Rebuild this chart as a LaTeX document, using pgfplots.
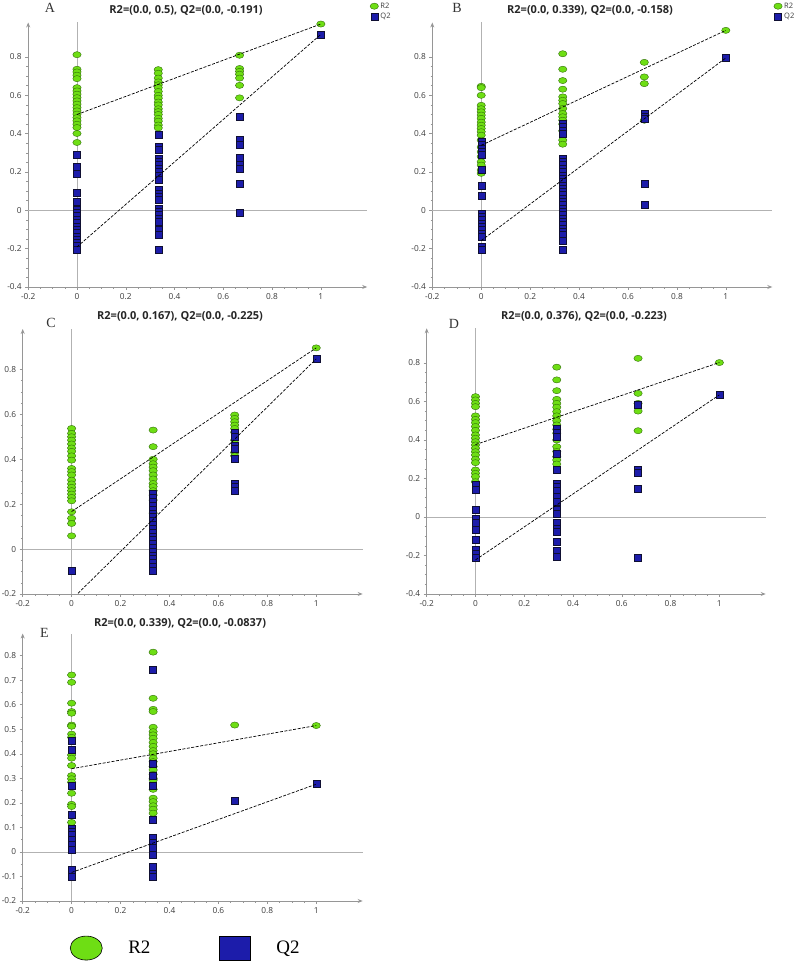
\documentclass[border=0pt]{standalone}
\usepackage{pgfplots}
\pgfplotsset{compat=1.18}
\usepackage{fontspec}
\setmainfont{Liberation Serif}
\newfontfamily\osans{Open Sans}
\usetikzlibrary{arrows.meta}
\definecolor{rgreen}{RGB}{110,222,20}
\definecolor{rgreenedge}{RGB}{50,110,10}
\definecolor{qblue}{RGB}{28,28,170}
\definecolor{qblueedge}{RGB}{15,15,50}
\definecolor{axgray}{RGB}{150,150,150}
\definecolor{zgray}{RGB}{178,178,178}
\definecolor{tickcol}{RGB}{60,60,60}
\pgfplotsset{
 perm/.style={
   scale only axis,
   axis lines=left,
   axis line style={axgray, line width=0.8pt, -{Stealth[length=5pt,width=4pt]}},
   tick align=outside,
   major tick length=3pt, minor tick length=1.8pt,
   tick style={axgray, line width=0.5pt},
   xmin=-0.2, xmax=1.19,
   xtick={-0.2,0,0.2,0.4,0.6,0.8,1},
   minor x tick num=3,
   minor y tick num=3,
   tick label style={font=\osans\fontsize{8.3}{9}\selectfont, text=tickcol},
   /pgf/number format/assume math mode=true,
   clip mode=individual,
 },
 r2/.style={only marks, mark=*, mark size=3.1pt, mark options={xscale=1.35, fill=rgreen, draw=rgreenedge, line width=0.4pt}},
 q2/.style={only marks, mark=square*, mark size=3.5pt, mark options={fill=qblue, draw=qblueedge, line width=0.4pt}},
 reg/.style={black, line width=0.7pt, dash pattern=on 3pt off 1.5pt, no marks, forget plot},
 smalllegend/.style={legend style={draw=none, fill=none, font=\osans\fontsize{7.5}{8}\selectfont, text=tickcol, row sep=-0.5pt, inner sep=0pt, legend cell align=left, anchor=north west}},
}
\begin{document}
\begin{tikzpicture}
\useasboundingbox (0pt,0pt) rectangle (802pt,962pt);
% ---------------- A ----------------
\begin{axis}[perm, at={(28.2pt,675pt)}, anchor=south west, width=339pt, height=264.5pt,
  ymin=-0.4, ymax=0.98, ytick={-0.4,-0.2,0,0.2,0.4,0.6,0.8},
  smalllegend, legend style={at={(1.008,1.083)}}]
\draw[zgray, line width=0.6pt] (axis cs:0,-0.4) -- (axis cs:0,0.98);
\draw[zgray, line width=0.6pt] (axis cs:-0.2,0) -- (axis cs:1.19,0);
\addplot[r2] coordinates {
(0,0.812)(0,0.736)(0,0.722)(0,0.705)(0,0.687)(0,0.640)(0,0.623)(0,0.606)(0,0.588)(0,0.571)(0,0.554)(0,0.536)(0,0.519)(0,0.502)(0,0.484)(0,0.467)(0,0.449)(0,0.432)(0,0.401)(0,0.354)
(0.3333,0.734)(0.3333,0.715)(0.3333,0.69)(0.3333,0.67)(0.3333,0.655)(0.3333,0.64)(0.3333,0.62)(0.3333,0.60)(0.3333,0.585)(0.3333,0.565)(0.3333,0.55)(0.3333,0.53)(0.3333,0.515)(0.3333,0.50)(0.3333,0.48)(0.3333,0.465)(0.3333,0.445)(0.3333,0.43)
(0.6667,0.809)(0.6667,0.74)(0.6667,0.725)(0.6667,0.71)(0.6667,0.69)(0.6667,0.652)(0.6667,0.587)
(1,0.972)};
\addlegendentry{R2}
\addplot[q2] coordinates {
(0,0.29)(0,0.227)(0,0.189)(0,0.094)(0,0.047)(0,0.005)(0,-0.012)(0,-0.03)(0,-0.047)(0,-0.065)(0,-0.083)(0,-0.10)(0,-0.118)(0,-0.135)(0,-0.153)(0,-0.17)(0,-0.187)(0,-0.205)
(0.3333,0.392)(0.3333,0.331)(0.3333,0.318)(0.3333,0.271)(0.3333,0.254)(0.3333,0.236)(0.3333,0.219)(0.3333,0.201)(0.3333,0.18)(0.3333,0.158)(0.3333,0.106)(0.3333,0.089)(0.3333,0.071)(0.3333,0.054)(0.3333,0.01)(0.3333,-0.007)(0.3333,-0.024)(0.3333,-0.042)(0.3333,-0.059)(0.3333,-0.102)(0.3333,-0.128)(0.3333,-0.203)
(0.6667,0.486)(0.6667,0.371)(0.6667,0.345)(0.6667,0.272)(0.6667,0.236)(0.6667,0.219)(0.6667,0.137)(0.6667,-0.012)
(1,0.918)};
\addlegendentry{Q2}
\addplot[reg] coordinates {(0,0.5) (1,0.972)};
\addplot[reg] coordinates {(0,-0.191) (1,0.918)};
\end{axis}
% ---------------- B ----------------
\begin{axis}[perm, at={(432.3pt,675pt)}, anchor=south west, width=340pt, height=264.5pt,
  ymin=-0.4, ymax=0.98, ytick={-0.4,-0.2,0,0.2,0.4,0.6,0.8},
  smalllegend, legend style={at={(1.004,1.083)}}]
\draw[zgray, line width=0.6pt] (axis cs:0,-0.4) -- (axis cs:0,0.98);
\draw[zgray, line width=0.6pt] (axis cs:-0.2,0) -- (axis cs:1.19,0);
\addplot[r2] coordinates {
(0,0.647)(0,0.64)(0,0.60)(0,0.548)(0,0.53)(0,0.514)(0,0.497)(0,0.48)(0,0.46)(0,0.444)(0,0.427)(0,0.41)(0,0.392)(0,0.366)(0,0.33)(0,0.305)(0,0.28)(0,0.253)(0,0.236)(0,0.21)(0,0.193)
(0.3333,0.817)(0.3333,0.736)(0.3333,0.677)(0.3333,0.632)(0.3333,0.592)(0.3333,0.574)(0.3333,0.557)(0.3333,0.531)(0.3333,0.505)(0.3333,0.488)(0.3333,0.47)(0.3333,0.45)(0.3333,0.415)(0.3333,0.366)(0.3333,0.345)
(0.6667,0.772)(0.6667,0.696)(0.6667,0.661)(0.6667,0.47)
(1,0.939)};
\addlegendentry{R2}
\addplot[q2] coordinates {
(0,0.357)(0,0.34)(0,0.323)(0,0.305)(0,0.288)(0,0.21)(0,0.13)(0,0.076)(0,-0.016)(0,-0.033)(0,-0.05)(0,-0.068)(0,-0.085)(0,-0.102)(0,-0.12)(0,-0.14)(0,-0.19)(0,-0.207)
(0.3333,0.453)(0.3333,0.436)(0.3333,0.418)(0.3333,0.40)(0.3333,0.27)(0.3333,0.253)(0.3333,0.236)(0.3333,0.218)(0.3333,0.2)(0.3333,0.183)(0.3333,0.166)(0.3333,0.148)(0.3333,0.131)(0.3333,0.114)(0.3333,0.096)(0.3333,0.079)(0.3333,0.062)(0.3333,0.044)(0.3333,0.027)(0.3333,0.01)(0.3333,-0.008)(0.3333,-0.025)(0.3333,-0.042)(0.3333,-0.06)(0.3333,-0.077)(0.3333,-0.094)(0.3333,-0.11)(0.3333,-0.125)(0.3333,-0.16)(0.3333,-0.205)
(0.6667,0.505)(0.6667,0.49)(0.6667,0.48)(0.6667,0.14)(0.6667,0.028)
(1,0.795)};
\addlegendentry{Q2}
\addplot[reg] coordinates {(0,0.339) (1,0.939)};
\addplot[reg] coordinates {(0,-0.158) (1,0.795)};
\end{axis}
% ---------------- C ----------------
\begin{axis}[perm, at={(22.7pt,368pt)}, anchor=south west, width=340pt, height=265pt,
  ymin=-0.2, ymax=0.98, ytick={-0.2,0,0.2,0.4,0.6,0.8}]
\draw[zgray, line width=0.6pt] (axis cs:0,-0.2) -- (axis cs:0,0.98);
\draw[zgray, line width=0.6pt] (axis cs:-0.2,0) -- (axis cs:1.19,0);
\addplot[r2] coordinates {
(0,0.537)(0,0.515)(0,0.5)(0,0.485)(0,0.468)(0,0.45)(0,0.435)(0,0.415)(0,0.396)(0,0.359)(0,0.345)(0,0.33)(0,0.307)(0,0.29)(0,0.275)(0,0.26)(0,0.245)(0,0.23)(0,0.215)(0,0.166)(0,0.137)(0,0.114)(0,0.059)
(0.3333,0.53)(0.3333,0.456)(0.3333,0.40)(0.3333,0.38)(0.3333,0.365)(0.3333,0.349)(0.3333,0.33)(0.3333,0.312)(0.3333,0.292)(0.3333,0.278)(0.3333,0.26)(0.3333,0.24)(0.3333,0.218)(0.3333,0.16)
(0.6667,0.597)(0.6667,0.582)(0.6667,0.567)(0.6667,0.552)(0.6667,0.537)(0.6667,0.52)(0.6667,0.485)(0.6667,0.43)(0.6667,0.415)
(1,0.896)};
\addplot[q2] coordinates {
(0,-0.096)
(0.3333,0.245)(0.3333,0.228)(0.3333,0.21)(0.3333,0.193)(0.3333,0.176)(0.3333,0.159)(0.3333,0.142)(0.3333,0.125)(0.3333,0.108)(0.3333,0.091)(0.3333,0.074)(0.3333,0.057)(0.3333,0.04)(0.3333,0.023)(0.3333,0.006)(0.3333,-0.011)(0.3333,-0.028)(0.3333,-0.045)(0.3333,-0.062)(0.3333,-0.079)(0.3333,-0.096)
(0.6667,0.518)(0.6667,0.5)(0.6667,0.46)(0.6667,0.448)(0.6667,0.404)(0.6667,0.292)(0.6667,0.277)(0.6667,0.262)
(1,0.847)};
\addplot[reg] coordinates {(0,0.167) (1,0.896)};
\addplot[reg] coordinates {(0,-0.225) (1,0.847)};
\end{axis}
% ---------------- D ----------------
\begin{axis}[perm, at={(426.7pt,368pt)}, anchor=south west, width=339pt, height=265.7pt,
  ymin=-0.4, ymax=0.98, ytick={-0.4,-0.2,0,0.2,0.4,0.6,0.8}]
\draw[zgray, line width=0.6pt] (axis cs:0,-0.4) -- (axis cs:0,0.98);
\draw[zgray, line width=0.6pt] (axis cs:-0.2,0) -- (axis cs:1.19,0);
\addplot[r2] coordinates {
(0,0.625)(0,0.608)(0,0.59)(0,0.573)(0,0.525)(0,0.507)(0,0.49)(0,0.47)(0,0.45)(0,0.426)(0,0.409)(0,0.391)(0,0.374)(0,0.357)(0,0.339)(0,0.322)(0,0.3)(0,0.282)(0,0.244)(0,0.227)(0,0.21)(0,0.183)
(0.3333,0.778)(0.3333,0.712)(0.3333,0.656)(0.3333,0.611)(0.3333,0.59)(0.3333,0.57)(0.3333,0.547)(0.3333,0.525)(0.3333,0.5)(0.3333,0.478)(0.3333,0.455)(0.3333,0.435)(0.3333,0.4)(0.3333,0.365)(0.3333,0.34)(0.3333,0.313)(0.3333,0.296)(0.3333,0.275)
(0.6667,0.824)(0.6667,0.642)(0.6667,0.59)(0.6667,0.55)(0.6667,0.448)
(1,0.802)};
\addplot[q2] coordinates {
(0,0.166)(0,0.144)(0,0.04)(0,-0.007)(0,-0.03)(0,-0.064)(0,-0.116)(0,-0.171)(0,-0.19)(0,-0.21)
(0.3333,0.46)(0.3333,0.438)(0.3333,0.417)(0.3333,0.331)(0.3333,0.244)(0.3333,0.175)(0.3333,0.158)(0.3333,0.135)(0.3333,0.106)(0.3333,0.08)(0.3333,0.036)(0.3333,0.019)(0.3333,-0.03)(0.3333,-0.059)(0.3333,-0.076)(0.3333,-0.128)(0.3333,-0.175)(0.3333,-0.206)
(0.6667,0.582)(0.6667,0.248)(0.6667,0.23)(0.6667,0.145)(0.6667,-0.21)
(1,0.634)};
\addplot[reg] coordinates {(0,0.376) (1,0.802)};
\addplot[reg] coordinates {(0,-0.223) (1,0.634)};
\end{axis}
% ---------------- E ----------------
\begin{axis}[perm, at={(22.7pt,61pt)}, anchor=south west, width=340pt, height=267.5pt,
  ymin=-0.2, ymax=0.89, ytick={-0.2,-0.1,0,0.1,0.2,0.3,0.4,0.5,0.6,0.7,0.8}, minor y tick num=1,
  legend columns=2,
  legend style={at={(0.139,-0.176)}, anchor=west, draw=none, fill=none, inner sep=0pt, outer sep=0pt,
     font=\fontsize{19}{20}\selectfont, nodes={inner sep=0pt}}]
\addlegendimage{legend image code/.code={\draw[fill=rgreen, draw=black, line width=0.6pt, solid] (16pt,0pt) ellipse (16pt and 12pt); \path[draw=none] (0pt,0pt) -- (58pt,0pt);}}
\addlegendentry{R2}
\addlegendimage{legend image code/.code={\path[draw=none] (-69pt,0pt) -- (0pt,0pt); \draw[fill=qblue, draw=black, line width=0.6pt, solid] (0pt,-12pt) rectangle (31pt,12pt); \path[draw=none] (31pt,0pt) -- (57pt,0pt);}}
\addlegendentry{Q2}
\draw[zgray, line width=0.6pt] (axis cs:0,-0.2) -- (axis cs:0,0.89);
\draw[zgray, line width=0.6pt] (axis cs:-0.2,0) -- (axis cs:1.19,0);
\addplot[r2, forget plot] coordinates {
(0,0.721)(0,0.691)(0,0.606)(0,0.572)(0,0.565)(0,0.517)(0,0.512)(0,0.48)(0,0.467)(0,0.395)(0,0.382)(0,0.352)(0,0.311)(0,0.298)(0,0.284)(0,0.239)(0,0.194)(0,0.185)(0,0.12)
(0.3333,0.814)(0.3333,0.626)(0.3333,0.581)(0.3333,0.572)(0.3333,0.508)(0.3333,0.49)(0.3333,0.477)(0.3333,0.463)(0.3333,0.446)(0.3333,0.43)(0.3333,0.413)(0.3333,0.4)(0.3333,0.382)(0.3333,0.368)(0.3333,0.348)(0.3333,0.334)(0.3333,0.316)(0.3333,0.3)(0.3333,0.293)(0.3333,0.255)(0.3333,0.219)(0.3333,0.205)(0.3333,0.188)(0.3333,0.174)(0.3333,0.158)
(0.6667,0.517)
(1,0.515)};
\addplot[q2, forget plot] coordinates {
(0,0.452)(0,0.418)(0,0.27)(0,0.151)(0,0.096)(0,0.082)(0,0.069)(0,0.049)(0,0.028)(0,0.008)(0,-0.071)(0,-0.1)
(0.3333,0.744)(0.3333,0.358)(0.3333,0.31)(0.3333,0.27)(0.3333,0.13)(0.3333,0.056)(0.3333,0.038)(0.3333,0.019)(0.3333,-0.01)(0.3333,-0.062)(0.3333,-0.087)(0.3333,-0.1)
(0.6667,0.208)
(1,0.276)};
\addplot[reg] coordinates {(0,0.339) (1,0.515)};
\addplot[reg] coordinates {(0,-0.0837) (1,0.276)};
\end{axis}
% ---------------- titles and panel letters ----------------
\begin{scope}[every node/.style={font=\osans\bfseries\fontsize{11}{12}\selectfont, text=black!85}]
\node at (186pt,952pt) {R2=(0.0, 0.5), Q2=(0.0, -0.191)};
\node at (590pt,952pt) {R2=(0.0, 0.339), Q2=(0.0, -0.158)};
\node at (180pt,646pt) {R2=(0.0, 0.167), Q2=(0.0, -0.225)};
\node at (584pt,646pt) {R2=(0.0, 0.376), Q2=(0.0, -0.223)};
\node at (180pt,339pt) {R2=(0.0, 0.339), Q2=(0.0, -0.0837)};
\end{scope}
\begin{scope}[every node/.style={font=\fontsize{14}{15}\selectfont, text=black!80}]
\node at (50pt,954pt) {A};
\node at (457pt,954pt) {B};
\node at (51pt,639pt) {C};
\node at (454pt,638pt) {D};
\node at (44.5pt,329pt) {E};
\end{scope}
\end{tikzpicture}
\end{document}
